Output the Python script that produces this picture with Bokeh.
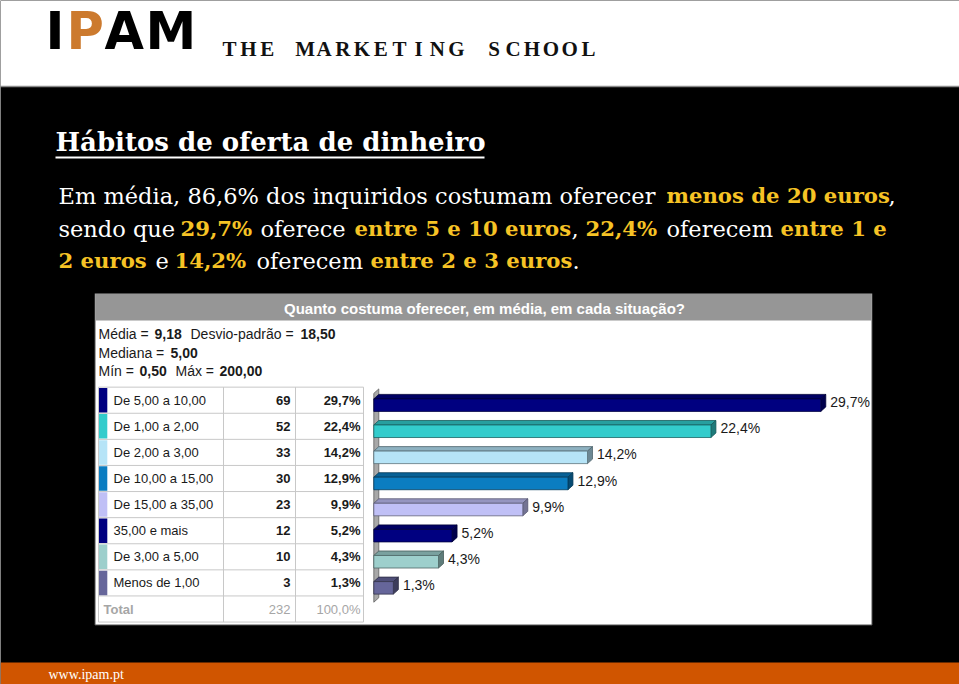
import numpy as np
from bokeh.plotting import figure
from bokeh.models import Range1d
from bokeh.core.properties import value
from bokeh.embed import file_html
from bokeh.resources import INLINE

# ---------------- data ----------------
categories = ["De 5,00 a 10,00", "De 1,00 a 2,00", "De 2,00 a 3,00", "De 10,00 a 15,00",
              "De 15,00 a 35,00", "35,00 e mais", "De 3,00 a 5,00", "Menos de 1,00"]
counts = [69, 52, 33, 30, 23, 12, 10, 3]
percents = [29.7, 22.4, 14.2, 12.9, 9.9, 5.2, 4.3, 1.3]
bar_colors = ["#000080", "#33cccc", "#b6e4f7", "#0b7dc1", "#c0c0f6", "#000080", "#9dcfcc", "#66669a"]
total_label = "Total"
total_count = 232
total_percent = "100,0%"

stat_names = ["Média", "Desvio-padrão", "Mediana", "Mín", "Máx"]
stat_values = ["9,18", "18,50", "5,00", "0,50", "200,00"]

chart_title = "Quanto costuma oferecer, em média, em cada situação?"
slide_title = "Hábitos de oferta de dinheiro"
brand_letters = ["I", "P", "A", "M"]
brand_tagline = "THE MARKETING SCHOOL"
footer_text = "www.ipam.pt"

paragraph = [
    [("Em média, 86,6% dos inquiridos costumam oferecer", False), ("menos de 20 euros", True), (",", False)],
    [("sendo que", False), ("29,7%", True), ("oferece", False), ("entre 5 e 10 euros", True), (",", False),
     ("22,4%", True), ("oferecem", False), ("entre 1 e", True)],
    [("2 euros", True), ("e", False), ("14,2%", True), ("oferecem", False), ("entre 2 e 3 euros", True), (".", False)],
]
paragraph_x = [[58, 666, 888], [58, 180, 260, 354, 571, 585, 666, 780], [58, 155, 174, 256, 370, 572]]
paragraph_y = [195, 228, 260]

# ---------------- helpers ----------------
def pct_label(v):
    return f"{v:.1f}".replace(".", ",") + "%"

def shade(c, f):
    r, g, b = int(c[1:3], 16), int(c[3:5], 16), int(c[5:7], 16)
    return "#%02x%02x%02x" % (int(r * f), int(g * f), int(b * f))

W, H = 959, 684
p = figure(width=W, height=H, x_range=Range1d(0, W), y_range=Range1d(H, 0),
           output_backend="svg", toolbar_location=None, min_border=0,
           x_axis_location=None, y_axis_location=None)
p.grid.visible = False
p.outline_line_color = None
p.background_fill_color = "black"
p.border_fill_color = "black"

# bar scale: pixel x = PX0 + PXS * percent ; rows: pixel y = RY0 + RYS * row
PX0, PXS = 373.3, 15.05
RY0, RYS = 399.7, 26.1
p.extra_x_ranges = {"pct": Range1d(-PX0 / PXS, (W - PX0) / PXS)}
p.extra_y_ranges = {"row": Range1d((H - RY0) / RYS, -RY0 / RYS)}

def txt(x, y, s, size, color="black", font="Liberation Sans", bold=False, align="left",
        baseline="middle", **kw):
    xs = list(x) if isinstance(x, (list, tuple, np.ndarray)) else [x]
    ys = list(y) if isinstance(y, (list, tuple, np.ndarray)) else [y]
    ss = list(s) if isinstance(s, (list, tuple)) else [s]
    n = max(len(xs), len(ys), len(ss))
    xs = xs * n if len(xs) == 1 else xs
    ys = ys * n if len(ys) == 1 else ys
    ss = ss * n if len(ss) == 1 else ss
    p.text(x=xs, y=ys, text=ss, text_font=value(font), text_font_size=value(f"{size}px"),
           text_font_style="bold" if bold else "normal", text_color=color,
           text_align=align, text_baseline=baseline, **kw)

# ---------------- slide background ----------------
p.quad(left=0, right=W, top=0, bottom=86, fill_color="white", line_color=None)
p.segment(x0=0, y0=86, x1=W, y1=86, line_color="#8a8a8a", line_width=1.5)
p.quad(left=0, right=W, top=662, bottom=H, fill_color="#d05500", line_color=None)
txt(48, 674, footer_text, 14, "white", "Liberation Serif")

# logo
logo_x = [45, 66, 104, 145]
logo_col = ["black", "#cc7a2e", "black", "black"]
for lx, lt, lc in zip(logo_x, brand_letters, logo_col):
    txt(lx, 31, lt, 51, lc, "DejaVu Sans", bold=True)
tag_x = [229 + 18.9 * k for k, ch in enumerate(brand_tagline) if ch != " "]
tag_t = [ch for ch in brand_tagline if ch != " "]
txt(tag_x, 48, tag_t, 21, "#111111", "Liberation Serif", bold=True, align="center")

# title
txt(55, 141, slide_title, 26, "white", "DejaVu Serif", bold=True)
p.segment(x0=55, y0=157, x1=484, y1=157, line_color="white", line_width=2)

# paragraph
YELLOW = "#f6c325"
for segs, xs, yc in zip(paragraph, paragraph_x, paragraph_y):
    for (s, b), x in zip(segs, xs):
        txt(x, yc, s, 21.2 if b else 22.5, YELLOW if b else "white", "DejaVu Serif", bold=b)

# ---------------- chart panel ----------------
p.quad(left=94.5, right=871.5, top=293, bottom=624.5, fill_color="white", line_color="#505050", line_width=1)
p.quad(left=95, right=871, top=293.5, bottom=320, fill_color="#969696", line_color=None)
txt(484, 307.5, chart_title, 15, "white", "Liberation Sans", bold=True, align="center")

# stats
name_x = [98, 190, 98, 98, 175]
val_x = [154, 300, 170, 139, 219]
stat_y = [333, 333, 352, 370, 370]
txt(name_x, stat_y, [f"{n} =" for n in stat_names], 14, "#1a1a1a")
txt(val_x, stat_y, stat_values, 14, "#1a1a1a", bold=True)

# table
rows = np.arange(len(categories))
RK = dict(y_range_name="row")
bounds = np.arange(-0.5, len(categories) + 1, 1.0)
p.segment(x0=98, x1=363, y0=bounds, y1=bounds, line_color="#c8c8c8", line_width=1, **RK)
p.segment(x0=[98, 223, 295, 363], x1=[98, 223, 295, 363], y0=-0.5, y1=len(categories) + 0.5,
          line_color="#c8c8c8", line_width=1, **RK)
p.quad(left=98.5, right=106.8, top=rows - 0.47, bottom=rows + 0.47, fill_color=bar_colors,
       line_color=None, **RK)
txt(113, rows, categories, 13, "#1a1a1a", y_range_name="row")
txt(290, rows, [str(c) for c in counts], 13, "#1a1a1a", bold=True, align="right", y_range_name="row")
txt(360, rows, [pct_label(v) for v in percents], 13, "#1a1a1a", bold=True, align="right", y_range_name="row")
nrow = len(categories)
txt(103, nrow, total_label, 13, "#a6a6a6", bold=True, y_range_name="row")
txt(290, nrow, str(total_count), 13, "#a6a6a6", align="right", y_range_name="row")
txt(360, nrow, total_percent, 13, "#a6a6a6", align="right", y_range_name="row")

# ---------------- 3D bars ----------------
BK = dict(x_range_name="pct", y_range_name="row")
D = 5.0 / PXS      # depth in percent units
DY = 4.5 / RYS     # depth in row units
T, B = -0.05, 0.43  # front face top/bottom offset from row centre
wall_top, wall_bot = -0.26, nrow - 0.26
p.patch(x=[0, D, D, 0], y=[wall_top, wall_top - DY, wall_bot - DY, wall_bot],
        fill_color="#a8a8a8", line_color="#606060", line_width=0.8, **BK)

top_xs = [[0, v, v + D, D] for v in percents]
top_ys = [[i + T, i + T, i + T - DY, i + T - DY] for i in rows]
side_xs = [[v, v + D, v + D, v] for v in percents]
side_ys = [[i + T, i + T - DY, i + B - DY, i + B] for i in rows]
p.patches(xs=top_xs, ys=top_ys, fill_color=[shade(c, 0.78) for c in bar_colors],
          line_color=[shade(c, 0.45) for c in bar_colors], line_width=0.8, **BK)
p.patches(xs=side_xs, ys=side_ys, fill_color=[shade(c, 0.6) for c in bar_colors],
          line_color=[shade(c, 0.45) for c in bar_colors], line_width=0.8, **BK)
p.quad(left=0, right=percents, top=rows + T, bottom=rows + B, fill_color=bar_colors,
       line_color=[shade(c, 0.5) for c in bar_colors], line_width=0.8, **BK)
txt([v + D + 0.3 for v in percents], rows + 0.08, [pct_label(v) for v in percents], 14, "#1a1a1a",
    x_range_name="pct", y_range_name="row")

open("out.html", "w").write(file_html(p, INLINE))
